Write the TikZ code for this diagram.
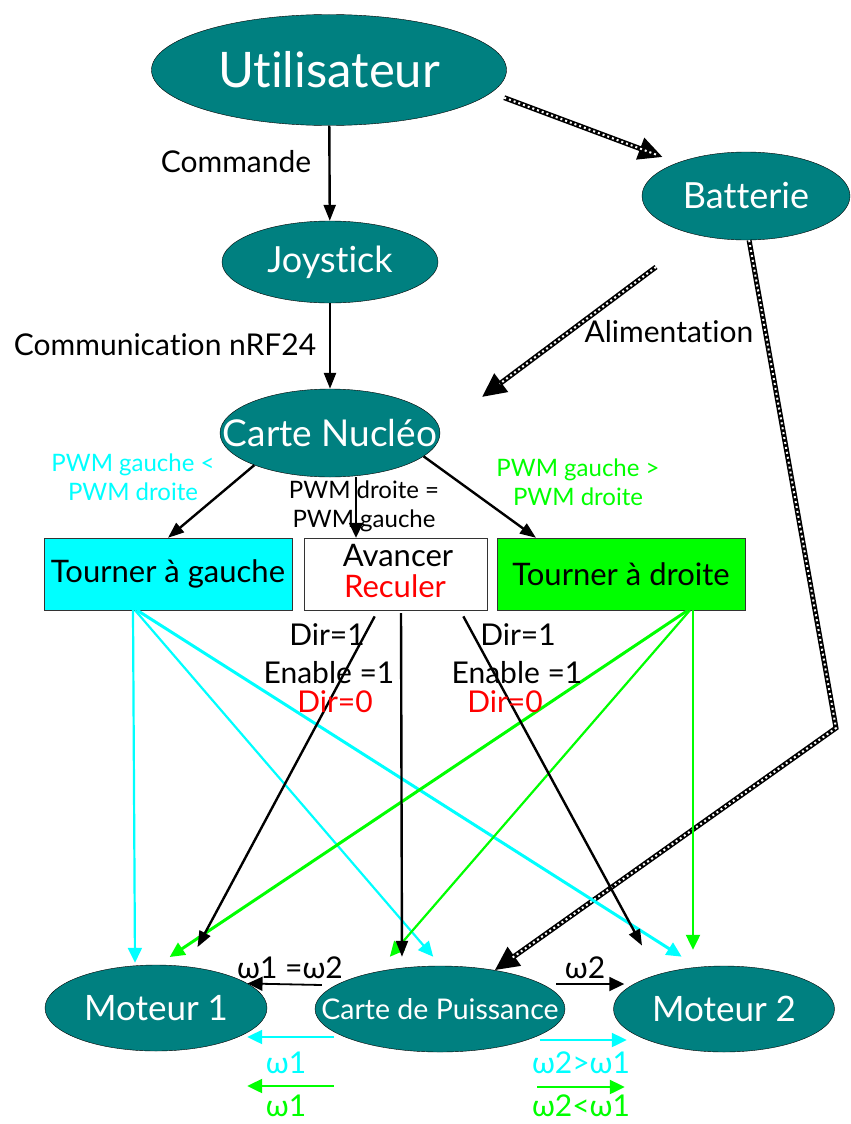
\documentclass[tikz,border=0pt]{standalone}
\usepackage{fontspec}
\setmainfont{Lato}[Ligatures={NoCommon}]
\usetikzlibrary{arrows.meta,shapes.geometric}
\definecolor{sarcelle}{HTML}{008080}
\definecolor{cyanvif}{HTML}{00FFFF}
\definecolor{vertvif}{HTML}{00FF00}
\newcommand{\fs}[1]{\fontsize{#1}{#1}\selectfont}
\newcommand{\etiq}[1]{\makebox[0pt]{#1}}
\begin{document}
\begin{tikzpicture}[x=1pt,y=-1pt]
	\tikzset{bloc/.style = {shape=ellipse,draw=black,fill=sarcelle,text=white,inner sep=0pt},
		choix/.style = {shape=rectangle,draw=black!80,minimum width=248,minimum height=72,inner sep=0pt,font=\fs{31}},
		fleche/.style = {line width=2.2pt,-{Triangle[length=15pt,width=14pt]}},
		fil/.style = {line width=2.4pt,-{Triangle[length=16pt,width=12pt]}},
		courant/.style = {line width=5pt,-{Triangle[length=24pt,width=22pt]},
			postaction={draw=white,line width=2pt,dash pattern=on 2pt off 3pt,arrows=-,shorten >=22pt}},
		texte/.style = {align=center,inner sep=0pt,font=\fs{30}},
		vitesse/.style = {inner sep=0pt,font=\fs{30}}}
	\useasboundingbox (0,0) rectangle (851,1124);

	\node[bloc, minimum width=355, minimum height=111, font=\fs{49}] (util) at (329,70) {\etiq{Utilisateur}};
	\node[bloc, minimum width=208, minimum height=88, font=\fs{36}] (bat) at (746,196) {\etiq{Batterie}};
	\node[bloc, minimum width=216, minimum height=82, font=\fs{36}] (joy) at (330,262) {\etiq{Joystick}};
	\node[bloc, minimum width=220, minimum height=88, font=\fs{37}] (nuc) at (330,433) {\etiq{Carte Nucléo}};

	\node[choix, fill=cyanvif] (tg) at (168,574) {Tourner à gauche};
	\node[choix, fill=white, minimum width=183] (av) at (395.5,574) {};
	\node[choix, fill=vertvif] (td) at (621,574) {Tourner à droite};
	\node[texte, font=\fs{31}] (avancer) at (398,556) {Avancer};
	\node[texte, font=\fs{31}, text=red] (reculer) at (395,586) {Reculer};

	\node[bloc, minimum width=222, minimum height=86, font=\fs{35}] (m1) at (156,1008) {\etiq{Moteur 1}};
	\node[bloc, minimum width=250, minimum height=86, font=\fs{28.5}] (puis) at (440,1009) {\etiq{Carte de Puissance}};
	\node[bloc, minimum width=221, minimum height=86, font=\fs{35}] (m2) at (724,1009) {\etiq{Moteur 2}};

	% commande
	\draw[fil] (util) -- (joy);
	\draw[fil] (joy) -- (nuc);
	\node[texte] (cmd) at (236,162) {Commande};
	\node[texte] (nrf) at (165,345) {Communication nRF24};

	% alimentation
	\coordinate (alimA) at (656,267);
	\coordinate (alimB) at (482,397);
	\coordinate (coude) at (836,728);
	\draw[courant, shorten <=14pt, shorten >=16pt] (util.-8) -- (bat.154);
	\draw[courant] (alimA) -- (alimB);
	\draw[courant] (bat.-86) -- (coude) -- (puis);
	\node[texte] (alim) at (669,332) {Alimentation};

	% choix du sens
	\draw[fil] (nuc.203) -- (tg.north);
	\draw[fleche, line width=1.6pt] ([xshift=26]nuc.south) -- ([xshift=-39.5]av.north);
	\draw[fil] (nuc.-14) -- ([xshift=-85]td.north);
	\node[texte, text=cyanvif, font=\fs{24}] (pwmA) at (133,477) {PWM gauche <\\[5pt]PWM droite};
	\node[texte, font=\fs{24}] (pwmB) at (364,506) {PWM droite =\\[5pt]PWM gauche};
	\node[texte, text=vertvif, font=\fs{24}] (pwmC) at (578,482) {PWM gauche >\\[5pt]PWM droite};

	% vers les moteurs
	\draw[fleche, cyanvif, shorten >=2pt] ([xshift=-35]tg.south) -- ([xshift=-21]m1.north);
	\draw[fleche, cyanvif, shorten >=12pt] ([xshift=-33]tg.south) -- ([xshift=1]puis.north);
	\draw[fleche, cyanvif, line width=3pt, shorten >=17pt] ([xshift=-31]tg.south) -- ([xshift=-28]m2.north);

	\draw[fleche, vertvif, shorten >=16pt] ([xshift=72]td.south) -- ([xshift=-31]m2.north);
	\draw[fleche, vertvif, line width=3pt, shorten >=14pt] ([xshift=67]td.south) -- ([xshift=2]m1.north);
	\draw[fleche, vertvif, shorten >=12pt] ([xshift=69]td.south) -- ([xshift=-58]puis.north);

	\draw[fil, shorten <=7pt, shorten >=20pt] ([xshift=-17.5]av.south) -- ([xshift=32]m1.north);
	\draw[fil, shorten <=3pt, shorten >=9pt] ([xshift=5.5]av.south) -- ([xshift=-38]puis.north);
	\draw[fil, shorten <=7pt, shorten >=23pt] ([xshift=64.5]av.south) -- ([xshift=-71]m2.north);

	\node[texte] (dirA) at (327,635) {Dir=1};
	\node[texte] (enA) at (329,673) {Enable =1};
	\node[texte, text=red] (dirB) at (335,702) {Dir=0};
	\node[texte] (dirC) at (518,635) {Dir=1};
	\node[texte] (enB) at (517,673) {Enable =1};
	\node[texte, text=red] (dirD) at (505,702) {Dir=0};

	% vitesses
	\draw[fleche, line width=1.8pt] ([xshift=7,yshift=24]puis.west) -- (m1.15);
	\draw[fleche, line width=1.8pt] ([xshift=-9,yshift=25]puis.east) -- ([xshift=11,yshift=25]m2.west);
	\draw[fleche, cyanvif] ([xshift=19,yshift=-28]puis.west) -- ([xshift=-20,yshift=-29]m1.east);
	\draw[fleche, vertvif] ([xshift=19,yshift=-77]puis.west) -- ([xshift=-20,yshift=-78]m1.east);
	\draw[fleche, cyanvif] ([xshift=-25,yshift=-31]puis.east) -- ([xshift=13.5,yshift=-31]m2.west);
	\draw[fleche, vertvif] ([xshift=-28,yshift=-78]puis.east) -- ([xshift=11.5,yshift=-78]m2.west);
	\node[vitesse] (vA) at (290,968) {ω1 =ω2};
	\node[vitesse] (vB) at (585,968) {ω2};
	\node[vitesse, text=cyanvif] (vC) at (286,1063) {ω1};
	\node[vitesse, text=vertvif] (vD) at (286,1106) {ω1};
	\node[vitesse, text=cyanvif] (vE) at (581,1063) {ω2>ω1};
	\node[vitesse, text=vertvif] (vF) at (581,1106) {ω2<ω1};
\end{tikzpicture}
\end{document}
